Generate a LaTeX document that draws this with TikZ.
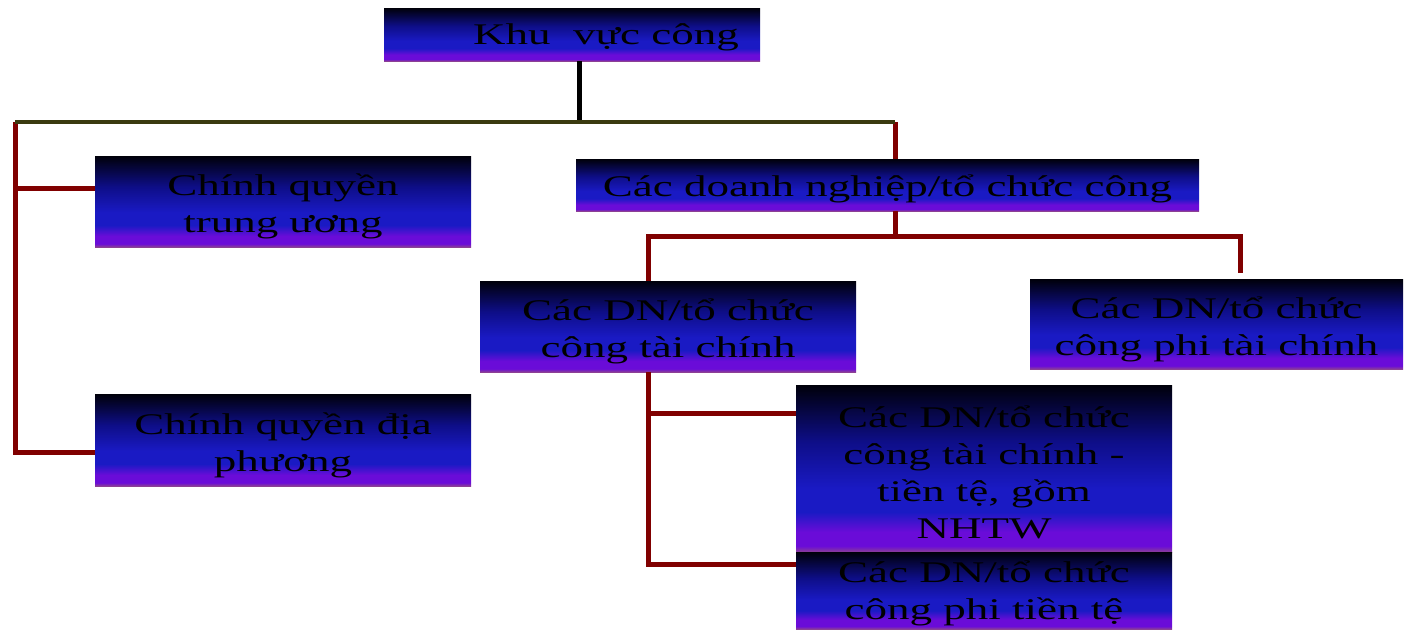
\documentclass[tikz,border=0pt]{standalone}
\usepackage{fontspec}
\setmainfont{Liberation Serif}[FakeStretch=1.5]
\usetikzlibrary{calc}
\definecolor{cMauve}{HTML}{8C4094}
\definecolor{cPurple}{HTML}{6A0CD8}
\definecolor{cBlue}{HTML}{1A1AC4}
\definecolor{cNavy}{HTML}{0E0E88}
\definecolor{cBlack}{HTML}{00000A}
\definecolor{cRed}{HTML}{800000}
\definecolor{cOlive}{HTML}{3A3A10}
\pgfdeclareverticalshading{boxshade}{100bp}{color(0bp)=(cMauve); color(25bp)=(cMauve); color(26.8bp)=(cPurple); color(31bp)=(cPurple); color(37bp)=(cBlue); color(44bp)=(cBlue); color(58bp)=(cNavy); color(75bp)=(cBlack); color(100bp)=(cBlack)}
\begin{document}
\begin{tikzpicture}[x=1pt,y=-1pt,
  box/.style={shading=boxshade, inner sep=0pt},
  lbl/.style={inner sep=0pt, align=center,
    font=\fontsize{30}{37}\selectfont, text=black},
  redline/.style={draw=cRed, line width=5pt},
  oliveline/.style={draw=cOlive, line width=4pt},
  blackline/.style={draw=black, line width=5pt}]
\useasboundingbox (0,0) rectangle (1404,630);
% boxes
\node[box, minimum width=376pt, minimum height=53pt] (kvc) at (572,34.5) {};
\node[box, minimum width=376pt, minimum height=91pt] (cqtw) at (283,201.5) {};
\node[box, minimum width=376pt, minimum height=92pt] (cqdp) at (283,440) {};
\node[box, minimum width=623pt, minimum height=52pt] (dntc) at (887.5,185) {};
\node[box, minimum width=376pt, minimum height=91pt] (tc) at (668,326.5) {};
\node[box, minimum width=373pt, minimum height=90pt] (ptc) at (1216.5,324) {};
\node[box, minimum width=376pt, minimum height=167pt] (tt) at (984,468.5) {};
\node[box, minimum width=376pt, minimum height=77pt] (ptt) at (984,590.5) {};
% labels
\node[lbl] (kvc-t) at ([xshift=34pt,yshift=-3pt]kvc.center) {Khu\ \ vực công};
\node[lbl] (cqtw-t) at ([yshift=-5pt]cqtw.center) {Chính quyền\\trung ương};
\node[lbl] (cqdp-t) at ([yshift=-5pt]cqdp.center) {Chính quyền địa\\phương};
\node[lbl] (dntc-t) at ([yshift=-4pt]dntc.center) {Các doanh nghiệp/tổ chức công};
\node[lbl] (tc-t) at ([yshift=-5pt]tc.center) {Các DN/tổ chức\\công tài chính};
\node[lbl] (ptc-t) at ([yshift=-5pt]ptc.center) {Các DN/tổ chức\\công phi tài chính};
\node[lbl] (tt-t) at ([yshift=-4pt]tt.center) {Các DN/tổ chức\\công tài chính -\\tiền tệ, gồm\\NHTW};
\node[lbl] (ptt-t) at ([yshift=-3pt]ptt.center) {Các DN/tổ chức\\công phi tiền tệ};
% junction points
\coordinate (top) at (579,122);
\coordinate (tl) at (15,122);
\coordinate (tr) at (895,122);
\coordinate (b1) at (15,188);
\coordinate (b2) at (15,452);
\coordinate (m) at (895,236);
\coordinate (ml) at (648,236);
\coordinate (mr) at (1240,236);
\coordinate (mre) at (1240,273);
\coordinate (c1) at (648,413);
\coordinate (c2) at (648,564);
% connectors
\draw[blackline] (kvc.south -| top) -- (top);
\draw[redline] (tl) -- (b2) -- (b2 -| cqdp.west);
\draw[redline] (b1) -- (b1 -| cqtw.west);
\draw[redline] (tr) -- (dntc.north -| tr);
\draw[oliveline] (tl) -- (tr);
\draw[redline] (dntc.south -| m) -- (m);
\draw[redline] (ml |- tc.north) -- (ml) -- (mr) -- (mre);
\draw[redline] (tc.south -| c1) -- (c2) -- (c2 -| ptt.west);
\draw[redline] (c1) -- (c1 -| tt.west);
\end{tikzpicture}
\end{document}
